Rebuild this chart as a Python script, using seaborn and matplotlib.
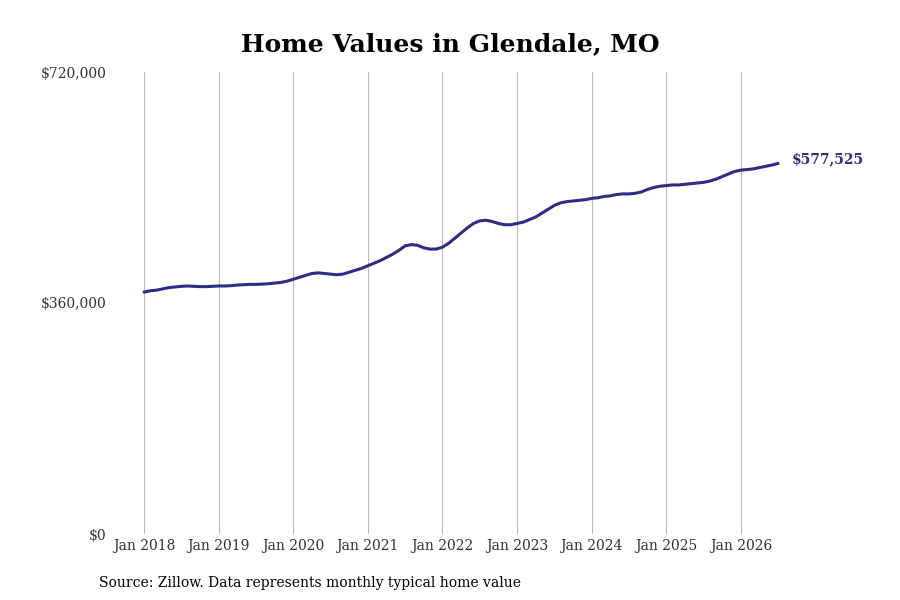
import matplotlib
matplotlib.use("Agg")
import matplotlib.pyplot as plt
import seaborn as sns
import pandas as pd
import numpy as np

values_k = [
377,379,380,382,384,385,386,386.5,386,385.5,385.5,386,
386.5,386.5,387,388,388.5,389,389,389.5,390,391,392,394,
397,400,403,406,407,406,405,404,405,408,411,414,
418,422,426,431,436,442,449,451,450,446,444,444,
447,453,461,469,477,484,488,489,487,484,482,482,
484,486,490,494,500,506,512,516,518,519,520,521,
523,524,526,527,529,530,530,531,533,537,540,542,
543,544,544,545,546,547,548,550,553,557,561,565,
567,568,569,571,573,575,577.525]
years = list(range(2018, 2027))
tick_labels = [f"Jan {y}" for y in years]
y_ticks = [0, 360000, 720000]
y_labels = ["$0", "$360,000", "$720,000"]

df = pd.DataFrame({"t": [2018 + i/12 for i in range(len(values_k))],
                   "v": [v*1000 for v in values_k]})

sns.set_theme(style="white")
plt.rcParams['font.family'] = ['DejaVu Serif']
color = "#2e2d84"
fig = plt.figure(figsize=(9, 6), dpi=100)
ax = fig.add_axes([112/900, 66/600, 678/900, 462/600])
sns.lineplot(data=df, x="t", y="v", ax=ax, color=color, linewidth=2.2)
ax.set_xlim(2018 - 32/74.6, 2018 + (790-144)/74.6)
ax.set_ylim(0, 720000)
ax.set_xticks(years)
ax.set_xticklabels(tick_labels, fontsize=10, color="#333333")
ax.set_yticks(y_ticks)
ax.set_yticklabels(y_labels, fontsize=10, color="#333333")
ax.grid(axis="x", color="#bbbbbb", linewidth=0.8)
ax.grid(axis="y", visible=False)
for s in ax.spines.values():
    s.set_visible(False)
ax.tick_params(axis="y", pad=4, length=0)
ax.tick_params(axis="x", length=0)
ax.set_xlabel(""); ax.set_ylabel("")
ax.annotate(f"${values_k[-1]*1000:,.0f}", (df.t.iloc[-1], df.v.iloc[-1]),
            xytext=(10, 3), textcoords="offset points", color=color,
            fontsize=10, fontweight="bold", va="center", annotation_clip=False)
fig.text(0.5, 0.915, "Home Values in Glendale, MO", ha="center",
         fontsize=18, fontweight="bold", color="black")
fig.text(0.11, 0.022, "Source: Zillow. Data represents monthly typical home value",
         fontsize=10, color="black")
fig.savefig("out.png")
